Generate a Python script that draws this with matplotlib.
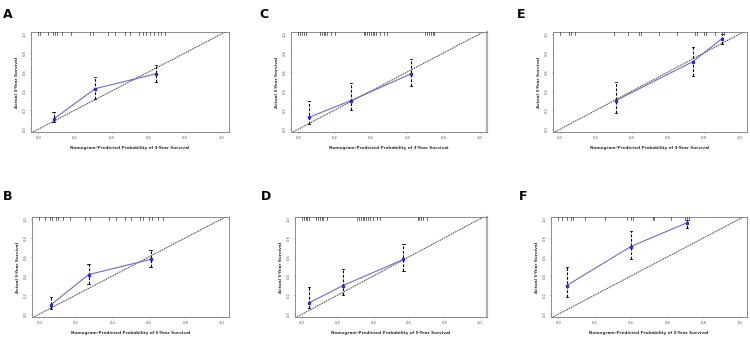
import matplotlib
matplotlib.use("Agg")
import matplotlib.pyplot as plt

# panel letters and survival horizon
PANELS = ["A", "C", "E", "B", "D", "F"]
YEARS = ["3", "3", "3", "5", "5", "5"]

# calibration points: predicted (x), observed (y), error bar low/high
PRED = {
    "A": [0.083, 0.31, 0.64],
    "C": [0.06, 0.29, 0.62],
    "E": [0.31, 0.74, 0.90],
    "B": [0.065, 0.27, 0.61],
    "D": [0.037, 0.23, 0.57],
    "F": [0.046, 0.40, 0.71],
}
OBS = {
    "A": [0.106, 0.425, 0.58],
    "C": [0.125, 0.30, 0.58],
    "E": [0.30, 0.71, 0.95],
    "B": [0.10, 0.415, 0.575],
    "D": [0.117, 0.30, 0.575],
    "F": [0.30, 0.71, 0.96],
}
LOW = {
    "A": [0.08, 0.32, 0.50],
    "C": [0.05, 0.20, 0.45],
    "E": [0.17, 0.56, 0.89],
    "B": [0.05, 0.32, 0.49],
    "D": [0.064, 0.20, 0.45],
    "F": [0.18, 0.58, 0.90],
}
HIGH = {
    "A": [0.18, 0.55, 0.67],
    "C": [0.30, 0.48, 0.74],
    "E": [0.50, 0.86, 1.00],
    "B": [0.18, 0.53, 0.67],
    "D": [0.29, 0.47, 0.74],
    "F": [0.49, 0.87, 0.99],
}
# rug of predicted probabilities along the top
RUG = {
    "A": [0.0, 0.01, 0.05, 0.08, 0.09, 0.10, 0.13, 0.18, 0.28, 0.30, 0.38, 0.42,
          0.47, 0.50, 0.55, 0.57, 0.59, 0.61, 0.63, 0.65, 0.67, 0.69],
    "C": [0.0, 0.01, 0.02, 0.03, 0.04, 0.12, 0.13, 0.14, 0.15, 0.16, 0.18, 0.20,
          0.36, 0.37, 0.38, 0.39, 0.40, 0.41, 0.42, 0.43, 0.45, 0.47, 0.49,
          0.70, 0.71, 0.72, 0.73, 0.74, 0.75],
    "E": [0.0, 0.05, 0.06, 0.08, 0.30, 0.38, 0.44, 0.45, 0.55, 0.65, 0.75, 0.76,
          0.80, 0.81, 0.86, 0.90, 0.91],
    "B": [0.0, 0.03, 0.06, 0.07, 0.09, 0.10, 0.13, 0.17, 0.25, 0.28, 0.38, 0.42,
          0.47, 0.50, 0.55, 0.57, 0.60, 0.62, 0.65, 0.68],
    "D": [0.0, 0.01, 0.02, 0.03, 0.04, 0.08, 0.09, 0.10, 0.11, 0.12, 0.14,
          0.31, 0.32, 0.33, 0.34, 0.35, 0.36, 0.37, 0.38, 0.40, 0.42, 0.44,
          0.65, 0.66, 0.67, 0.68, 0.70],
    "F": [0.0, 0.02, 0.05, 0.07, 0.08, 0.15, 0.26, 0.38, 0.40, 0.41, 0.52, 0.53,
          0.62, 0.70, 0.71, 0.72],
}
TICKS = [0.0, 0.2, 0.4, 0.6, 0.8, 1.0]
TICK_LABELS = ["0.0", "0.2", "0.4", "0.6", "0.8", "1.0"]

W, H = 750, 339
# axes boxes in pixels (left, top, right, bottom) and letter positions
BOX = {
    "A": (31, 32, 229, 132), "C": (291, 32, 487, 132), "E": (553, 32, 747, 132),
    "B": (32, 217, 229, 317), "D": (295, 217, 487, 317), "F": (551, 217, 747, 317),
}
LETTER = {"A": (3, 14), "C": (259, 14), "E": (517, 14),
          "B": (3, 197), "D": (261, 197), "F": (519, 197)}

BLUE = "#6b6bd0"

fig = plt.figure(figsize=(W / 100, H / 100), dpi=100)
fig.patch.set_facecolor("white")

for key, yr in zip(PANELS, YEARS):
    l, t, r, b = BOX[key]
    ax = fig.add_axes([l / W, 1 - b / H, (r - l) / W, (b - t) / H])
    ax.set_xlim(-0.04, 1.04)
    ax.set_ylim(-0.03, 1.02)

    # ideal line
    ax.plot([-0.04, 1.04], [-0.04, 1.04], color="#c4c4c4", lw=0.7, zorder=1)
    ax.plot([-0.04, 1.04], [-0.04, 1.04], color="#333333", lw=0.7,
            linestyle=(0, (1, 1.6)), zorder=2)

    # error bars
    for x, lo, hi in zip(PRED[key], LOW[key], HIGH[key]):
        ax.plot([x, x], [lo, hi], color="black", lw=0.8,
                linestyle=(0, (2.5, 1.5)), zorder=3)
        ax.plot([x - 0.006, x + 0.006], [lo, lo], color="black", lw=0.6, zorder=3)
        ax.plot([x - 0.006, x + 0.006], [hi, hi], color="black", lw=0.6, zorder=3)

    ax.plot(PRED[key], OBS[key], color=BLUE, lw=0.8, zorder=4)
    ax.plot(PRED[key], OBS[key], linestyle="none", marker="s", ms=1.4,
            color="#2b2bd0", zorder=5)

    # rug at the top
    for x in RUG[key]:
        ax.plot([x, x], [0.975, 1.0], transform=ax.get_xaxis_transform(),
                color="#333333", lw=0.5, zorder=3)

    ax.set_xticks(TICKS)
    ax.set_xticklabels(TICK_LABELS)
    ax.set_yticks(TICKS)
    ax.set_yticklabels(TICK_LABELS, rotation=90, va="center")
    ax.tick_params(labelsize=2.6, length=1.0, width=0.4, pad=2,
                   colors="#555555")
    for s in ax.spines.values():
        s.set_linewidth(0.6)
        s.set_color("#7a7a7a")
    if key in ("C", "D"):
        ax.spines["right"].set_linewidth(1.6)
        ax.spines["right"].set_color("#b0b0b0")

    ax.set_xlabel(f"Nomogram-Predicted Probability of {yr}-Year Survival",
                  fontsize=3.0, fontweight="bold", labelpad=4, color="#333333")
    ax.set_ylabel(f"Actual {yr}-Year Survival", fontsize=3.0,
                  fontweight="bold", labelpad=3, color="#333333")

    lx, ly = LETTER[key]
    fig.text(lx / W, 1 - ly / H, key, fontsize=9, fontweight="bold",
             va="center", ha="left")

fig.savefig("out.png", dpi=100)
